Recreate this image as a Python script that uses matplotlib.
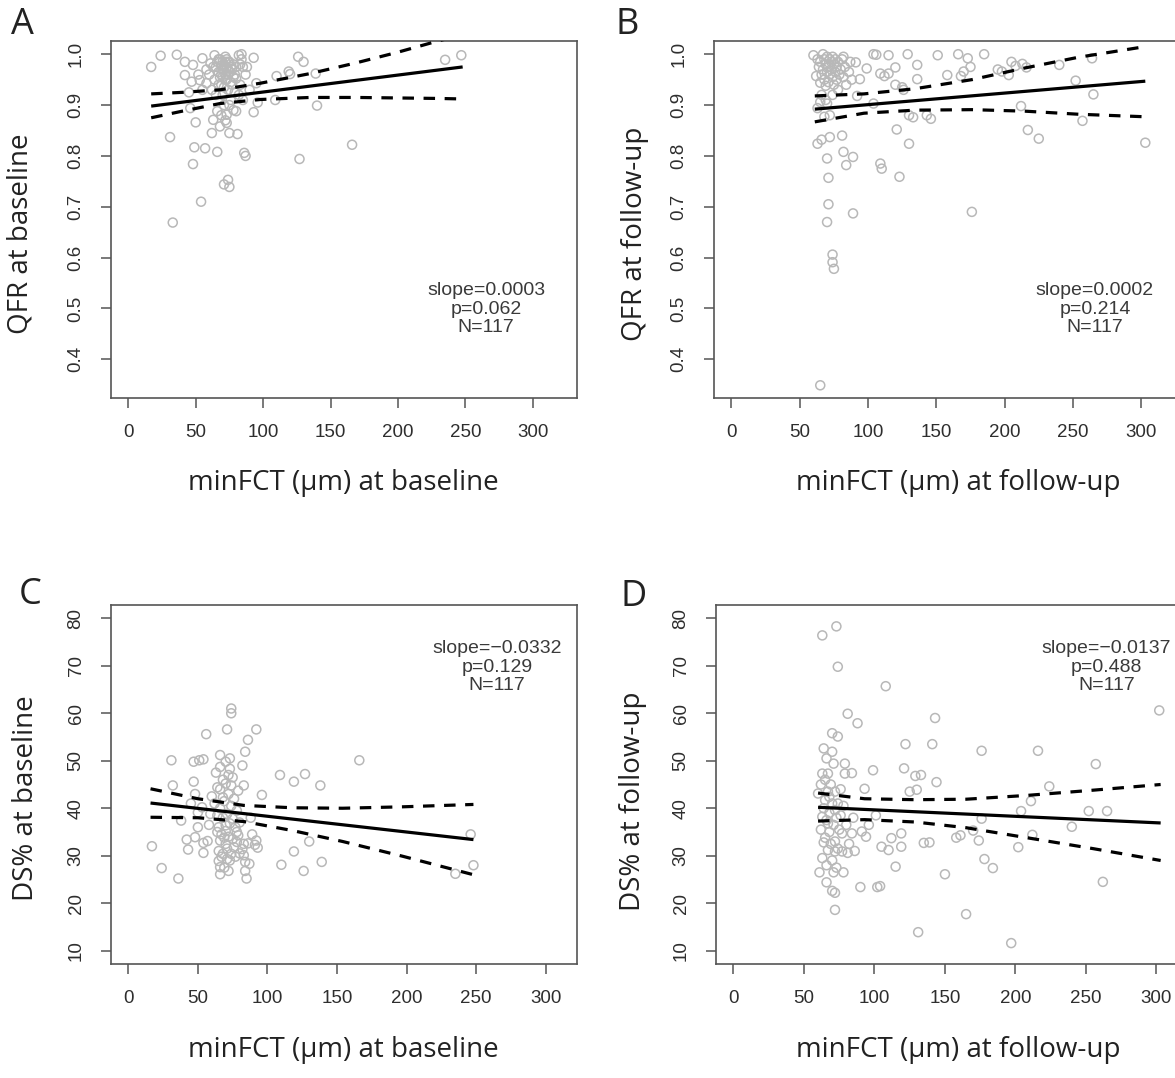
import matplotlib
matplotlib.use("Agg")
import matplotlib.pyplot as plt

plt.rcParams['font.family'] = ['Liberation Sans', 'DejaVu Sans']

# ---- panel A: QFR vs minFCT at baseline ----
a_x = [17, 24, 33, 31, 36, 42, 42, 46, 47, 48, 48, 49, 50, 53, 54, 55, 57, 58, 61, 62,
       63, 64, 65, 66, 66, 67, 67, 68, 68, 69, 69, 70, 70, 71, 71, 71, 72, 72, 72, 73,
       73, 73, 74, 74, 74, 75, 75, 75, 76, 76, 77, 78, 78, 79, 80, 80, 81, 82, 83, 83,
       84, 84, 85, 85, 86, 87, 87, 88, 90, 93, 93, 95, 96, 109, 110, 120, 119, 126, 127, 130,
       139, 140, 166, 235, 247,
       60, 62, 63, 64, 65, 66, 67, 68, 69, 69, 70, 70, 71, 71, 72, 72, 73, 73, 74, 74,
       75, 75, 76, 77, 78, 79, 80, 82, 55, 58, 52, 45]
a_y = [0.975, 0.997, 0.669, 0.837, 0.999, 0.985, 0.959, 0.894, 0.946, 0.979, 0.784, 0.817, 0.866,
       0.949, 0.710, 0.992, 0.815, 0.943, 0.982, 0.845, 0.871, 0.998, 0.975, 0.888, 0.808, 0.965,
       0.990, 0.858, 0.955, 0.978, 0.940, 0.985, 0.920, 0.744, 0.970, 0.900, 0.995, 0.950, 0.870,
       0.881, 0.865, 0.975, 0.753, 0.960, 0.930, 0.739, 0.845, 0.985, 0.945, 0.910, 0.970, 0.890,
       0.955, 0.925, 0.952, 0.888, 0.843, 0.998, 0.980, 0.940, 1.000, 0.990, 0.975, 0.910, 0.806,
       0.960, 0.800, 0.975, 0.930, 0.993, 0.886, 0.943, 0.905, 0.910, 0.957, 0.961, 0.966, 0.995,
       0.794, 0.985, 0.962, 0.899, 0.822, 0.989, 0.998,
       0.960, 0.930, 0.975, 0.950, 0.920, 0.985, 0.940, 0.990, 0.960, 0.880, 0.955, 0.970, 0.980,
       0.935, 0.960, 0.985, 0.950, 0.990, 0.970, 0.985, 0.965, 0.900, 0.975, 0.940, 0.980, 0.960,
       0.975, 0.920, 0.930, 0.970, 0.960, 0.925]
a_fit_x = [17, 248]
a_fit_y = [0.898, 0.975]
a_band_x = [17, 40, 68, 98, 135, 169, 200, 231, 248]
a_band_hi = [0.922, 0.925, 0.930, 0.943, 0.962, 0.983, 1.004, 1.027, 1.038]
a_band_lo = [0.875, 0.888, 0.903, 0.911, 0.915, 0.915, 0.914, 0.913, 0.912]

# ---- panel B: QFR vs minFCT at follow-up ----
b_x = [60, 62, 63, 63, 65, 65, 65, 66, 67, 68, 69, 70, 70, 70, 71, 71, 72, 72, 74, 74,
       75, 81, 82, 82, 84, 89, 89, 91, 92, 94, 99, 104, 104, 106, 109, 109, 110, 112, 115, 115,
       120, 120, 121, 123, 125, 126, 129, 130, 130, 133, 136, 136, 143, 146, 151, 158, 166, 168, 170, 173,
       175, 176, 185, 195, 198, 203, 205, 208, 212, 213, 216, 217, 225, 240, 252, 257, 264, 265, 303,
       63, 64, 65, 66, 67, 68, 68, 69, 70, 70, 71, 71, 72, 72, 73, 73, 74, 74, 75, 75,
       76, 76, 77, 77, 78, 79, 80, 81, 82, 83, 84, 86, 87, 88, 66, 69, 74, 78]
b_y = [0.998, 0.957, 0.894, 0.824, 0.349, 0.944, 0.906, 0.832, 1.000, 0.877, 0.938, 0.903, 0.795,
       0.670, 0.757, 0.705, 0.880, 0.837, 0.606, 0.591, 0.578, 0.840, 0.995, 0.808, 0.782, 0.798,
       0.687, 0.984, 0.918, 0.951, 0.972, 1.000, 0.903, 0.999, 0.962, 0.785, 0.775, 0.957, 0.998,
       0.962, 0.974, 0.940, 0.852, 0.759, 0.935, 0.930, 1.000, 0.880, 0.824, 0.876, 0.979, 0.951,
       0.880, 0.873, 0.998, 0.959, 1.000, 0.957, 0.966, 0.992, 0.975, 0.690, 1.000, 0.970, 0.966,
       0.959, 0.985, 0.977, 0.898, 0.981, 0.974, 0.851, 0.834, 0.979, 0.948, 0.869, 0.992, 0.921,
       0.826,
       0.990, 0.975, 0.985, 0.960, 0.970, 0.990, 0.950, 0.980, 0.995, 0.965, 0.975, 0.945, 0.990,
       0.960, 0.985, 0.970, 0.955, 0.995, 0.980, 0.940, 0.965, 0.990, 0.975, 0.950, 0.985, 0.960,
       0.970, 0.990, 0.955, 0.975, 0.940, 0.965, 0.985, 0.950, 0.920, 0.910, 0.920, 0.930]
b_fit_x = [61, 303]
b_fit_y = [0.892, 0.947]
b_band_x = [61, 97, 134, 176, 215, 254, 303]
b_band_hi = [0.918, 0.922, 0.932, 0.950, 0.973, 0.994, 1.015]
b_band_lo = [0.867, 0.884, 0.890, 0.891, 0.888, 0.882, 0.877]

# ---- panel C: DS% vs minFCT at baseline ----
c_x = [17, 24, 31, 32, 36, 38, 42, 43, 47, 47, 48, 48, 50, 51, 53, 54, 54, 54, 56, 57,
       59, 64, 64, 65, 66, 66, 66, 66, 66, 68, 68, 70, 70, 70, 71, 71, 72, 73, 73, 74,
       74, 74, 74, 78, 78, 79, 82, 82, 83, 83, 83, 84, 84, 84, 85, 86, 86, 87, 91, 92,
       92, 93, 96, 109, 110, 119, 119, 126, 127, 130, 138, 139, 166, 235, 246, 248,
       62, 63, 64, 65, 65, 66, 66, 67, 67, 68, 68, 69, 69, 69, 70, 70, 71, 71, 72, 72,
       72, 73, 73, 74, 75, 75, 75, 76, 76, 77, 77, 78, 79, 80, 80, 58, 60, 45, 50, 88, 89]
c_y = [32.0, 27.4, 50.1, 44.8, 25.2, 37.4, 33.4, 31.3, 45.6, 49.8, 43.0, 33.9, 39.1, 50.1, 40.2,
       50.3, 30.6, 32.7, 55.6, 33.1, 38.8, 44.4, 35.0, 28.9, 51.2, 48.7, 33.2, 26.1, 27.6, 42.3,
       30.4, 49.8, 36.4, 32.5, 56.6, 29.3, 26.8, 50.5, 48.3, 61.0, 60.0, 44.8, 30.4, 35.0, 32.9,
       43.7, 49.0, 31.4, 44.8, 32.5, 30.1, 51.9, 28.7, 26.8, 25.2, 54.4, 32.6, 28.3, 32.3, 56.6,
       33.2, 31.7, 42.8, 47.0, 28.1, 45.6, 30.9, 26.8, 47.2, 33.0, 44.8, 28.7, 50.1, 26.2, 34.5,
       28.0,
       41.0, 47.5, 38.5, 31.0, 36.0, 40.0, 44.0, 34.5, 29.8, 38.0, 46.0, 33.8, 27.5, 41.5, 35.2,
       45.2, 31.5, 38.8, 43.0, 34.0, 47.0, 36.8, 29.0, 40.5, 33.5, 37.8, 46.5, 31.8, 42.0, 36.0,
       29.8, 39.5, 34.3, 37.0, 30.5, 36.5, 42.5, 41.0, 36.0, 38.0, 34.5]
c_fit_x = [16, 248]
c_fit_y = [41.1, 33.4]
c_band_x = [16, 50, 83, 118, 154, 197, 248]
c_band_hi = [44.1, 42.0, 40.6, 40.1, 40.0, 40.3, 40.8]
c_band_lo = [38.1, 38.0, 37.2, 35.3, 33.0, 29.9, 26.0]

# ---- panel D: DS% vs minFCT at follow-up ----
d_x = [60, 61, 63, 63, 63, 64, 64, 65, 66, 66, 67, 67, 67, 68, 70, 70, 70, 71, 71, 72,
       72, 72, 72, 73, 74, 74, 77, 77, 78, 79, 79, 81, 81, 84, 84, 88, 90, 91, 93, 94,
       99, 102, 104, 105, 108, 110, 112, 115, 119, 119, 121, 122, 125, 129, 130, 131, 133, 135, 139, 141,
       143, 144, 150, 158, 161, 165, 170, 174, 176, 176, 178, 184, 197, 202, 204, 211, 212, 216, 224, 240,
       252, 257, 262, 265, 302,
       62, 62, 63, 64, 65, 65, 66, 66, 67, 68, 68, 69, 69, 70, 70, 71, 72, 72, 73, 73,
       74, 74, 75, 76, 76, 78, 80, 82, 85, 86, 96, 101]
d_y = [43.1, 26.5, 76.4, 47.3, 38.2, 52.6, 32.8, 41.7, 50.5, 24.4, 47.3, 36.8, 31.2, 42.4, 55.8,
       51.9, 22.6, 49.4, 26.5, 39.6, 30.9, 22.2, 18.6, 78.3, 69.8, 55.1, 34.7, 30.9, 26.5, 49.4,
       47.3, 59.9, 30.6, 47.4, 34.7, 57.9, 23.4, 35.1, 44.1, 34.0, 48.0, 23.4, 23.6, 31.9, 65.7,
       31.2, 33.7, 27.7, 34.7, 31.9, 48.4, 53.5, 43.5, 46.8, 43.9, 13.9, 47.0, 32.7, 32.8, 53.5,
       59.0, 45.5, 26.1, 33.8, 34.3, 17.7, 35.3, 33.2, 52.1, 37.8, 29.3, 27.4, 11.6, 31.8, 39.4,
       41.5, 34.4, 52.1, 44.6, 36.1, 39.4, 49.3, 24.5, 39.4, 60.6,
       45.0, 35.5, 29.5, 40.0, 33.8, 46.0, 37.5, 28.0, 43.5, 35.0, 39.0, 32.5, 45.0, 41.0, 29.0,
       36.5, 43.5, 33.0, 38.0, 27.5, 41.0, 31.5, 35.5, 38.5, 44.0, 40.5, 36.5, 32.5, 38.0, 31.0,
       36.5, 38.5]
d_fit_x = [60, 303]
d_fit_y = [40.2, 36.9]
d_band_x = [60, 93, 129, 165, 208, 255, 303]
d_band_hi = [43.2, 42.0, 41.8, 41.9, 42.7, 43.8, 45.0]
d_band_lo = [37.3, 37.6, 37.1, 35.9, 33.8, 31.5, 29.0]

qfr_ticks = [0.4, 0.5, 0.6, 0.7, 0.8, 0.9, 1.0]
ds_ticks = [10, 20, 30, 40, 50, 60, 70, 80]
x_ticks = [0, 50, 100, 150, 200, 250, 300]

W, H = 1175, 1078
fig = plt.figure(figsize=(W / 100, H / 100), dpi=100)


def box(x0, y0, x1, y1):
    return [x0 / W, 1 - y1 / H, (x1 - x0) / W, (y1 - y0) / H]


def panel(rect, x, y, fx, fy, bx, hi, lo, xlim, ylim, yticks, ylabfmt, note, note_xy):
    ax = fig.add_axes(rect)
    ax.scatter(x, y, s=42, facecolors='none', edgecolors='#b8b8b8', linewidths=1.1, zorder=2)
    ax.plot(fx, fy, color='black', lw=2.3, zorder=3, solid_capstyle='butt')
    for band in (hi, lo):
        ax.plot(bx, band, color='black', lw=2.3, ls=(0, (3.6, 3.0)), zorder=3)
    ax.set_xlim(xlim)
    ax.set_ylim(ylim)
    ax.set_xticks(x_ticks)
    ax.set_yticks(yticks)
    ax.set_yticklabels([ylabfmt.format(t) for t in yticks])
    ax.tick_params(direction='out', length=7, width=1.1, color='#555555',
                   labelsize=13.5, labelcolor='#2e2e2e', pad=12)
    ax.tick_params(axis='y', labelrotation=90)
    for lbl in ax.get_yticklabels():
        lbl.set_va('center')
    for sp in ax.spines.values():
        sp.set_color('#555555')
        sp.set_linewidth(1.2)
    ax.text(note_xy[0], note_xy[1], note, transform=ax.transAxes, ha='center', va='center',
            fontsize=14, color='#3a3a3a', linespacing=1.1)
    return ax


panel(box(111, 41, 577, 398), a_x, a_y, a_fit_x, a_fit_y, a_band_x, a_band_hi, a_band_lo,
      (-12.8, 332.8), (0.324, 1.026), qfr_ticks, '{:.1f}',
      'slope=0.0003\np=0.062\nN=117', (0.805, 0.249))
panel(box(714, 41, 1186, 398), b_x, b_y, b_fit_x, b_fit_y, b_band_x, b_band_hi, b_band_lo,
      (-12.8, 332.8), (0.324, 1.026), qfr_ticks, '{:.1f}',
      'slope=0.0002\np=0.214\nN=117', (0.807, 0.249))
panel(box(111, 605, 577, 964), c_x, c_y, c_fit_x, c_fit_y, c_band_x, c_band_hi, c_band_lo,
      (-12.4, 322.4), (7.2, 82.8), ds_ticks, '{:d}',
      'slope=\u22120.0332\np=0.129\nN=117', (0.828, 0.827))
panel(box(716, 605, 1188, 964), d_x, d_y, d_fit_x, d_fit_y, d_band_x, d_band_hi, d_band_lo,
      (-12.4, 322.4), (7.2, 82.8), ds_ticks, '{:d}',
      'slope=\u22120.0137\np=0.488\nN=117', (0.827, 0.827))

big = ['Open Sans', 'DejaVu Sans']


def ftext(px, py, s, size, rot=0):
    fig.text(px / W, 1 - py / H, s, ha='center', va='center', fontsize=size,
             rotation=rot, family=big, color='#222222')


ftext(343, 483, 'minFCT (\u03bcm) at baseline', 20)
ftext(958, 483, 'minFCT (\u03bcm) at follow-up', 20)
ftext(343, 1050, 'minFCT (\u03bcm) at baseline', 20)
ftext(958, 1050, 'minFCT (\u03bcm) at follow-up', 20)
ftext(21, 234, 'QFR at baseline', 20, 90)
ftext(635, 234, 'QFR at follow-up', 20, 90)
ftext(26, 798, 'DS% at baseline', 20, 90)
ftext(633, 801, 'DS% at follow-up', 20, 90)
ftext(22, 25, 'A', 26)
ftext(627, 25, 'B', 26)
ftext(30, 595, 'C', 26)
ftext(634, 597, 'D', 26)

fig.savefig('out.png', dpi=100)
